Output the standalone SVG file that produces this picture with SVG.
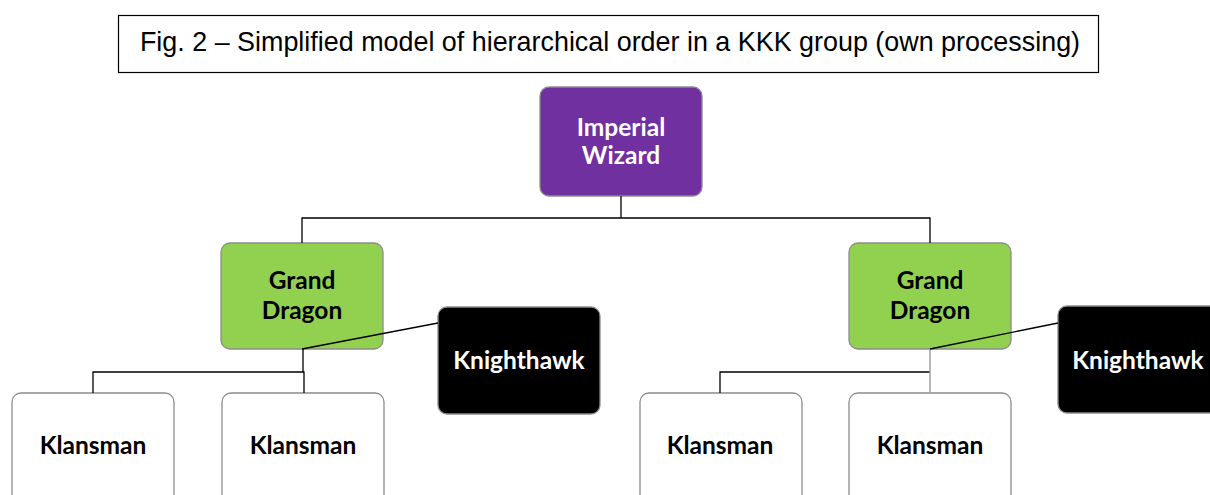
<svg xmlns="http://www.w3.org/2000/svg" width="1210" height="495" viewBox="0 0 1210 495">
<style>
.box{stroke:#8c8c8c;stroke-width:1.3}
.t{font-family:Lato,"Open Sans","Liberation Sans",sans-serif;font-weight:bold;font-size:24.5px;text-anchor:middle}
.w{fill:#ffffff}
.k{fill:#000000}
.ln{stroke:#000;stroke-width:1.3;fill:none}
</style>
<rect width="1210" height="495" fill="#ffffff"/>
<g id="title">
<rect x="118.5" y="15.5" width="980" height="57" fill="#ffffff" stroke="#000" stroke-width="1.2"/>
<text x="610" y="51" font-family="Liberation Sans,Arial,sans-serif" font-size="26.9" text-anchor="middle" fill="#000">Fig. 2 – Simplified model of hierarchical order in a KKK group (own processing)</text>
</g>
<g id="imperial-wizard">
<rect class="box" x="540" y="87" width="162" height="109" rx="9" fill="#7030A0" stroke="#4b1f6e"/>
<text class="t w" x="621" y="136">Imperial</text>
<text class="t w" x="621" y="164">Wizard</text>
</g>
<g id="grand-dragon-left">
<rect class="box" x="221" y="243" width="162" height="106" rx="9" fill="#92D050"/>
<text class="t k" x="302" y="289">Grand</text>
<text class="t k" x="302" y="319">Dragon</text>
</g>
<g id="grand-dragon-right">
<rect class="box" x="849" y="243" width="162" height="106" rx="9" fill="#92D050"/>
<text class="t k" x="930" y="289">Grand</text>
<text class="t k" x="930" y="319">Dragon</text>
</g>
<g id="knighthawk-left">
<rect class="box" x="438" y="307" width="162" height="107" rx="9" fill="#000000"/>
<text class="t w" x="519" y="369">Knighthawk</text>
</g>
<g id="knighthawk-right">
<rect class="box" x="1058" y="306" width="162" height="107" rx="9" fill="#000000"/>
<text class="t w" x="1138" y="369">Knighthawk</text>
</g>
<g id="klansman-1">
<rect class="box" x="12" y="393" width="162" height="110" rx="9" fill="#ffffff"/>
<text class="t k" x="93" y="454">Klansman</text>
</g>
<g id="klansman-2">
<rect class="box" x="222" y="393" width="162" height="110" rx="9" fill="#ffffff"/>
<text class="t k" x="303" y="454">Klansman</text>
</g>
<g id="klansman-3">
<rect class="box" x="640" y="393" width="162" height="110" rx="9" fill="#ffffff"/>
<text class="t k" x="720" y="454">Klansman</text>
</g>
<g id="klansman-4">
<rect class="box" x="849" y="393" width="162" height="110" rx="9" fill="#ffffff"/>
<text class="t k" x="930" y="454">Klansman</text>
</g>
<g id="connectors">
<polyline class="ln" points="621,196 621,218"/>
<polyline class="ln" points="302,243 302,218 930,218 930,243"/>
<line class="ln" x1="438" y1="323" x2="302" y2="349"/>
<polyline class="ln" points="303,349 303,372 93,372 93,393"/>
<polyline class="ln" points="303,372 304,372 304,393"/>
<line class="ln" x1="1058" y1="323" x2="930" y2="349"/>
<polyline class="ln" points="930,372 720,372 720,393"/>
<line x1="930" y1="350" x2="930" y2="393" stroke="#a0a0a0" stroke-width="1.5"/>
</g>
</svg>
